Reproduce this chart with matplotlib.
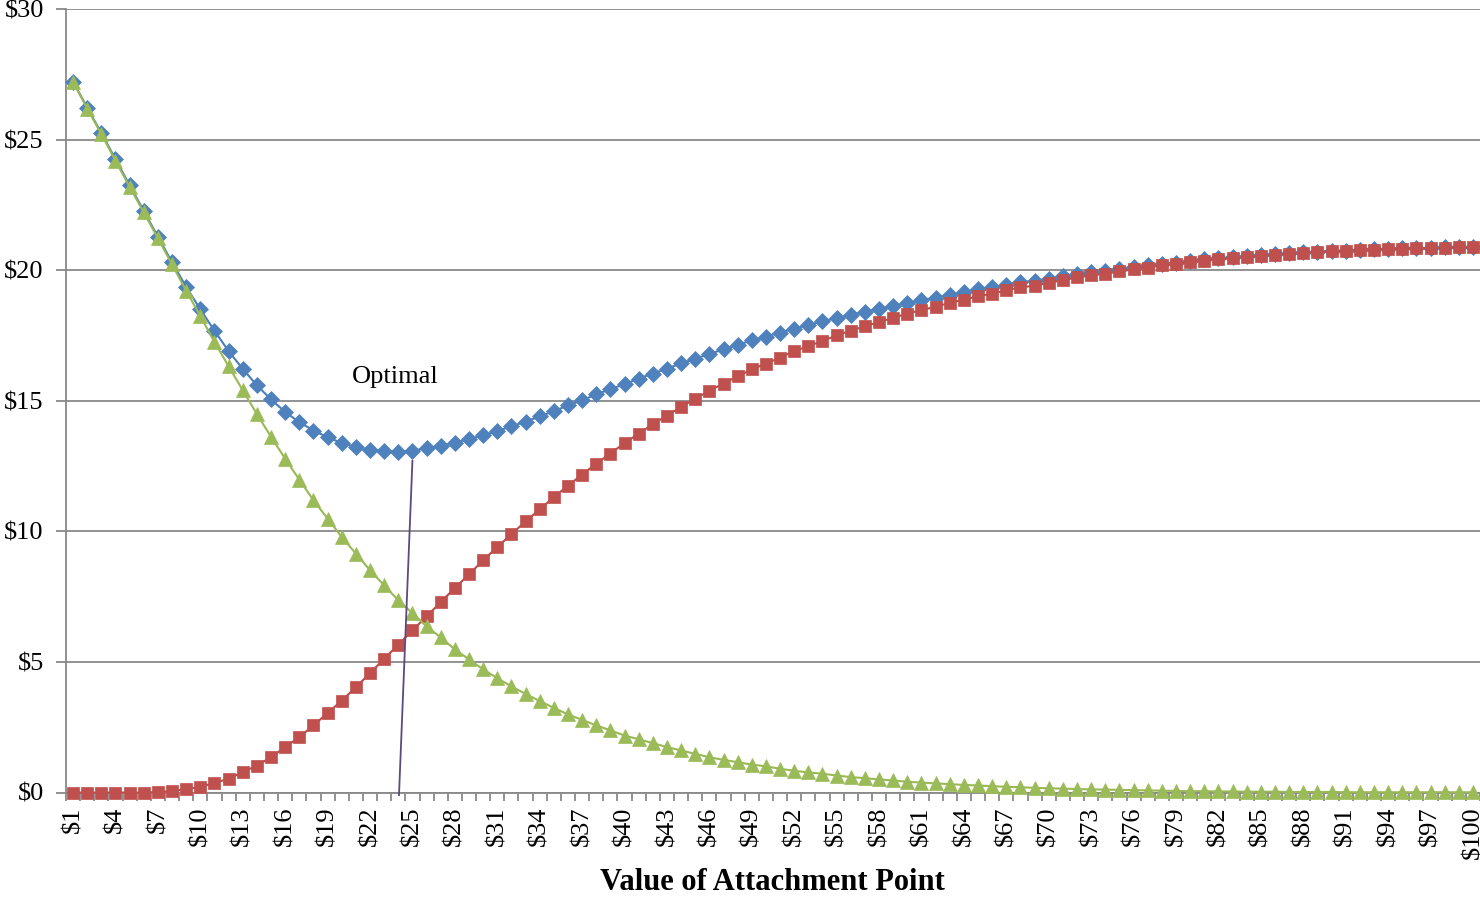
import matplotlib
matplotlib.use("Agg")
import matplotlib.pyplot as plt
from matplotlib.ticker import FixedLocator, NullFormatter

# ---- data ----
attachment_points = list(range(1, 101))
tick_labels = [f"${v}" for v in attachment_points]

total_cost = [27.22, 26.22, 25.25, 24.25, 23.25, 22.27, 21.28, 20.30, 19.36, 18.50,
              17.68, 16.90, 16.22, 15.59, 15.05, 14.57, 14.18, 13.86, 13.60, 13.38,
              13.23, 13.13, 13.08, 13.04, 13.09, 13.18, 13.28, 13.40, 13.53, 13.68,
              13.84, 14.02, 14.20, 14.40, 14.60, 14.82, 15.02, 15.24, 15.45, 15.63,
              15.85, 16.04, 16.23, 16.43, 16.61, 16.79, 16.97, 17.14, 17.31, 17.46,
              17.61, 17.76, 17.90, 18.04, 18.17, 18.29, 18.41, 18.52, 18.63, 18.75,
              18.85, 18.95, 19.06, 19.16, 19.27, 19.34, 19.45, 19.54, 19.59, 19.67,
              19.76, 19.85, 19.92, 19.98, 20.05, 20.12, 20.18, 20.25, 20.29, 20.36,
              20.41, 20.45, 20.50, 20.54, 20.58, 20.62, 20.64, 20.68, 20.71, 20.74,
              20.75, 20.78, 20.80, 20.81, 20.83, 20.84, 20.85, 20.87, 20.88, 20.89]

red_series = [0.00, 0.00, 0.00, 0.00, 0.00, 0.00, 0.02, 0.06, 0.12, 0.22,
              0.36, 0.53, 0.78, 1.03, 1.35, 1.74, 2.12, 2.57, 3.04, 3.52,
              4.03, 4.57, 5.12, 5.66, 6.21, 6.74, 7.29, 7.83, 8.35, 8.89,
              9.40, 9.89, 10.38, 10.84, 11.31, 11.75, 12.17, 12.59, 12.98, 13.38,
              13.74, 14.10, 14.43, 14.76, 15.08, 15.38, 15.66, 15.94, 16.20, 16.42,
              16.65, 16.90, 17.09, 17.29, 17.50, 17.68, 17.85, 18.02, 18.17, 18.34,
              18.47, 18.60, 18.75, 18.87, 19.00, 19.10, 19.23, 19.34, 19.41, 19.51,
              19.62, 19.72, 19.80, 19.87, 19.95, 20.03, 20.10, 20.18, 20.23, 20.31,
              20.36, 20.41, 20.46, 20.51, 20.55, 20.59, 20.62, 20.66, 20.69, 20.72,
              20.74, 20.77, 20.79, 20.80, 20.82, 20.83, 20.84, 20.86, 20.87, 20.88]

green_series = [27.21, 26.19, 25.21, 24.19, 23.19, 22.21, 21.22, 20.22, 19.21, 18.24,
                17.25, 16.32, 15.40, 14.49, 13.62, 12.78, 11.98, 11.19, 10.49, 9.78,
                9.15, 8.51, 7.93, 7.36, 6.87, 6.36, 5.94, 5.48, 5.10, 4.71,
                4.38, 4.06, 3.78, 3.50, 3.24, 2.99, 2.78, 2.57, 2.38, 2.18,
                2.04, 1.89, 1.74, 1.61, 1.48, 1.35, 1.25, 1.16, 1.07, 1.00,
                0.91, 0.83, 0.77, 0.72, 0.65, 0.59, 0.55, 0.50, 0.46, 0.41,
                0.38, 0.35, 0.32, 0.29, 0.27, 0.24, 0.22, 0.20, 0.18, 0.16,
                0.15, 0.13, 0.12, 0.11, 0.10, 0.09, 0.08, 0.07, 0.06, 0.05,
                0.05, 0.04, 0.04, 0.03, 0.03, 0.03, 0.02, 0.02, 0.02, 0.02,
                0.01, 0.01, 0.01, 0.01, 0.01, 0.01, 0.01, 0.01, 0.01, 0.01]

y_ticks = [0, 5, 10, 15, 20, 25, 30]
y_tick_labels = ["$0", "$5", "$10", "$15", "$20", "$25", "$30"]

optimal_label = "Optimal"
optimal_line_x = [25.0, 24.05]
optimal_line_y = [12.7, -0.1]
optimal_text_pos = (23.8, 15.9)

# ---- figure ----
plt.rcParams['font.family'] = ['Liberation Serif', 'DejaVu Serif']
plt.rcParams['mathtext.default'] = 'regular'

fig = plt.figure(figsize=(14.8, 8.99), dpi=100)
ax = fig.add_axes([66 / 1480, (899 - 792.5) / 899, 1 - 66 / 1480, (792.5 - 9) / 899])

grid_c = "#898989"
ax.set_ylim(0, 30)
ax.set_xlim(0.5, 100.5)
ax.set_yticks(y_ticks)
ax.set_yticklabels(y_tick_labels)
ax.yaxis.grid(True, color=grid_c, linewidth=1.3)
ax.set_axisbelow(True)

for s in ["top", "right"]:
    ax.spines[s].set_visible(False)
for s in ["left", "bottom"]:
    ax.spines[s].set_color(grid_c)
    ax.spines[s].set_linewidth(1.3)

ax.tick_params(axis='y', length=7, width=1.3, color=grid_c, labelsize=19, pad=9)

# x: labels every 3rd category, tick marks at category boundaries
label_pos = attachment_points[::3]
ax.xaxis.set_major_locator(FixedLocator(label_pos))
ax.set_xticklabels([tick_labels[i - 1] for i in label_pos], rotation=90, va='top', ha='center')
ax.tick_params(axis='x', which='major', length=0, labelsize=19, pad=10)
ax.xaxis.set_minor_locator(FixedLocator([p + 0.5 for p in [0] + attachment_points]))
ax.xaxis.set_minor_formatter(NullFormatter())
ax.tick_params(axis='x', which='minor', length=6, width=1.3, color=grid_c)

blue_c, blue_line = "#4F81BD", "#4A7EBB"
red_c, red_line = "#C0504D", "#BE4B48"
green_c, green_line = "#9BBB59", "#98B954"

ax.plot(attachment_points, total_cost, color=blue_line, linewidth=1.5,
        marker='D', markersize=8.6, markerfacecolor=blue_c, markeredgecolor=blue_c,
        markeredgewidth=0.5, clip_on=False, zorder=3)
ax.plot(attachment_points, red_series, color=red_line, linewidth=1.5,
        marker='s', markersize=9.0, markerfacecolor=red_c, markeredgecolor=red_c,
        markeredgewidth=0.5, clip_on=False, zorder=4)
ax.plot(attachment_points, green_series, color=green_line, linewidth=1.5,
        marker='^', markersize=9.5, markerfacecolor=green_c, markeredgecolor=green_c,
        markeredgewidth=0.5, clip_on=False, zorder=5)

ax.plot(optimal_line_x, optimal_line_y, color="#5B4A7E", linewidth=1.3,
        clip_on=False, zorder=6)
ax.text(optimal_text_pos[0], optimal_text_pos[1], optimal_label, fontsize=19,
        ha='center', va='center', color='black')

fig.text(772 / 1480, 1 - 883 / 899, "Value of Attachment Point", fontsize=22,
         fontweight='bold', ha='center', va='center')

fig.savefig("out.png", dpi=100)
